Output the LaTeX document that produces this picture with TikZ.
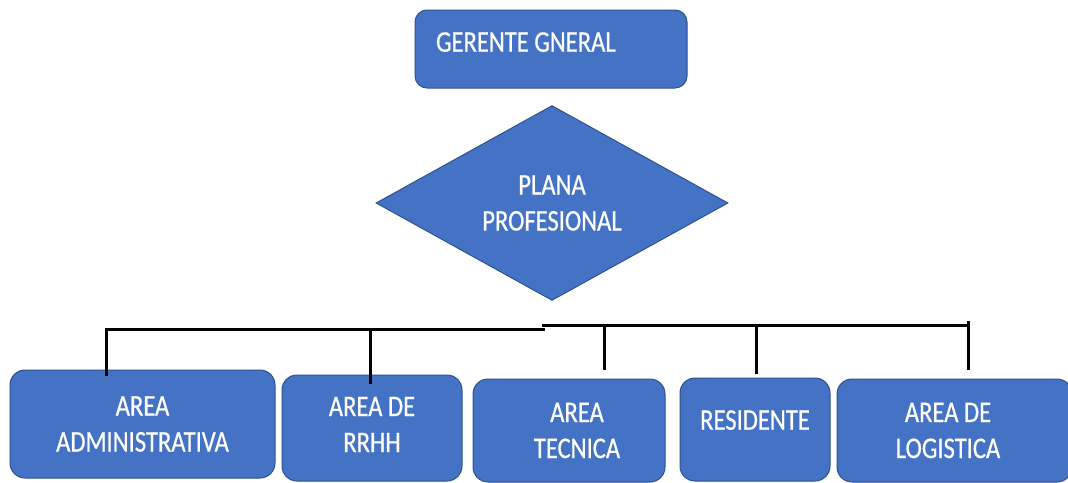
\documentclass[tikz,border=0pt]{standalone}
\usepackage{fontspec}
\setmainfont{Carlito}[FakeStretch=0.82, FakeBold=0.6]
\usetikzlibrary{shapes.geometric}
\definecolor{boxblue}{HTML}{4472C4}
\definecolor{boxedge}{HTML}{2F528F}
\newcommand{\padx}[1]{\rule{#1}{0pt}}
\begin{document}
\begin{tikzpicture}[x=1pt,y=-1pt,
  boxtext/.style={text=white, font=\fontsize{30}{36}\selectfont, align=center, inner sep=0pt},
  box/.style={boxtext, draw=boxedge, line width=1pt, fill=boxblue, rounded corners=15pt},
  conn/.style={line width=3pt, black, line cap=rect}]
\clip (0,0) rectangle (1068,482);
\fill[white] (0,0) rectangle (1068,482);

% top box
\node[box, rounded corners=12pt, minimum width=272pt, minimum height=78pt,
      text width=230pt, align=flush left, text depth=14pt] (gg) at (551,49) {GERENTE GNERAL};

% diamond
\node[boxtext, diamond, draw=boxedge, line width=1pt, fill=boxblue,
      minimum width=352pt, minimum height=190pt] (pp) at (552,203) {PLANA\\PROFESIONAL};

% bottom boxes
\node[box, minimum width=265pt, minimum height=108pt] (b1) at (142.5,424) {AREA\\ADMINISTRATIVA};
\node[box, minimum width=180pt, minimum height=106pt, text depth=7pt] (b2) at (372,428) {AREA DE\\RRHH};
\node[box, minimum width=192pt, minimum height=103pt] (b3) at (569,430.5) {\padx{16pt}AREA\\\padx{16pt}TECNICA};
\node[box, minimum width=150pt, minimum height=103pt, text depth=19pt] (b4) at (755,429.5) {RESIDENTE};
\node[box, minimum width=235pt, minimum height=103pt] (b5) at (954.5,430.5) {AREA DE\padx{13pt}\\LOGISTICA\padx{13pt}};

% connector bar
\coordinate (t1) at (106,329);
\coordinate (bm) at (543,329);
\coordinate (bm2) at (543,325.5);
\coordinate (t5) at (968,325.5);
\coordinate (t5top) at (968,322);
\coordinate (t2) at (370,329);
\coordinate (t3) at (604,325.5);
\coordinate (t4) at (756,325.5);
\coordinate (e1) at (106,374);
\coordinate (e2) at (370,382);
\coordinate (e3) at (604,368);
\coordinate (e4) at (756,372);
\coordinate (e5) at (968,368);

\draw[conn] (e1) -- (t1) -- (bm);
\draw[conn] (bm2) -- (t5);
\draw[conn] (t2) -- (e2);
\draw[conn] (t3) -- (e3);
\draw[conn] (t4) -- (e4);
\draw[conn] (t5top) -- (e5);
\end{tikzpicture}
\end{document}
